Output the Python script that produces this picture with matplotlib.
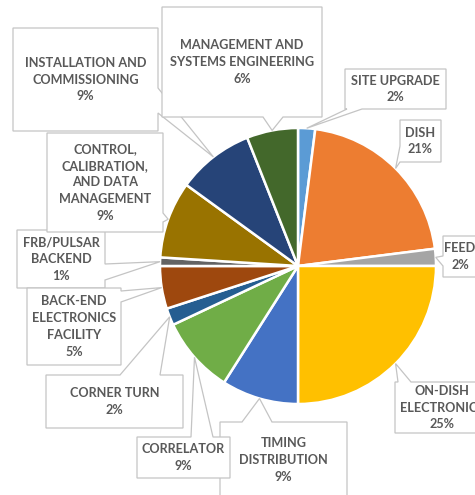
import numpy as np
import matplotlib.pyplot as plt
from matplotlib.patches import Polygon

# datos del grafico
etiquetas = ["SITE UPGRADE", "DISH", "FEED", "ON-DISH\nELECTRONICS",
             "TIMING\nDISTRIBUTION", "CORRELATOR", "CORNER TURN",
             "BACK-END\nELECTRONICS\nFACILITY", "FRB/PULSAR\nBACKEND",
             "CONTROL,\nCALIBRATION,\nAND DATA\nMANAGEMENT",
             "INSTALLATION AND\nCOMMISSIONING",
             "MANAGEMENT AND\nSYSTEMS ENGINEERING"]
porcentajes = [2, 21, 2, 25, 9, 9, 2, 5, 1, 9, 9, 6]
colores = ["#5B9BD5", "#ED7D31", "#A5A5A5", "#FFC000", "#4472C4", "#70AD47",
           "#255E91", "#9E480E", "#636363", "#997300", "#264478", "#43682B"]

# cajas de las etiquetas en pixeles: (izq, arriba, der, abajo), lado del piquito, base
cajas = [(345, 69, 446, 109, "bottom", 347, 362, 5),
         (400, 120, 441, 162, "left", 146, 162, 5),
         (443, 236, 477, 277, "left", 256, 266, 5),
         (395, 382, 489, 433, "top", 398, 411, 5),
         (220, 422, 347, 498, "top", 242, 272, 4),
         (137, 437, 230, 478, "top", 191, 213, 5),
         (46, 375, 183, 428, "top", 120, 160, 5),
         (27, 288, 121, 365, "right", 291, 302, 5),
         (17, 230, 105, 288, "right", 264, 280, 4),
         (47, 133, 163, 232, "right", 213, 222, 5),
         (13, 28, 158, 131, "right", 88, 113, 3),
         (162, 7, 322, 117, "bottom", 263, 283, 4)]

W, H = 475, 495
cx, cy, R = 298, 266, 138

fig = plt.figure(figsize=(W / 100, H / 100), dpi=100)
ax = fig.add_axes([0, 0, 1, 1])

cunas, _ = ax.pie(porcentajes, colors=colores, startangle=90, counterclock=False,
                  center=(cx, H - cy), radius=R, frame=True,
                  wedgeprops=dict(edgecolor="white", linewidth=1.8))
ax.set_xlim(0, W)
ax.set_ylim(0, H)
ax.axis("off")

gris_borde = "#C4C4C4"
for cuna, etq, p, caja in zip(cunas, etiquetas, porcentajes, cajas):
    l, t, r, b, lado, a1, a2, z = caja
    ang = np.deg2rad((cuna.theta1 + cuna.theta2) / 2)
    # punta del piquito en pixeles (y hacia abajo)
    punta = (cx + R * np.cos(ang), cy - R * np.sin(ang))
    if lado == "top":
        pts = [(l, t), (a1, t), punta, (a2, t), (r, t), (r, b), (l, b)]
    elif lado == "right":
        pts = [(l, t), (r, t), (r, a1), punta, (r, a2), (r, b), (l, b)]
    elif lado == "bottom":
        pts = [(l, t), (r, t), (r, b), (a2, b), punta, (a1, b), (l, b)]
    else:
        pts = [(l, t), (r, t), (r, b), (l, b), (l, a2), punta, (l, a1)]
    pts = [(x, H - y) for x, y in pts]
    ax.add_patch(Polygon(pts, closed=True, facecolor="white", edgecolor=gris_borde,
                         linewidth=0.9, zorder=z))
    ax.text((l + r) / 2, H - (t + b) / 2, etq + "\n" + str(p) + "%",
            ha="center", va="center", family="Lato", weight="bold",
            fontsize=9.1, color="#595959", linespacing=1.48, zorder=z + 0.5)

plt.savefig("out.png", dpi=100)
